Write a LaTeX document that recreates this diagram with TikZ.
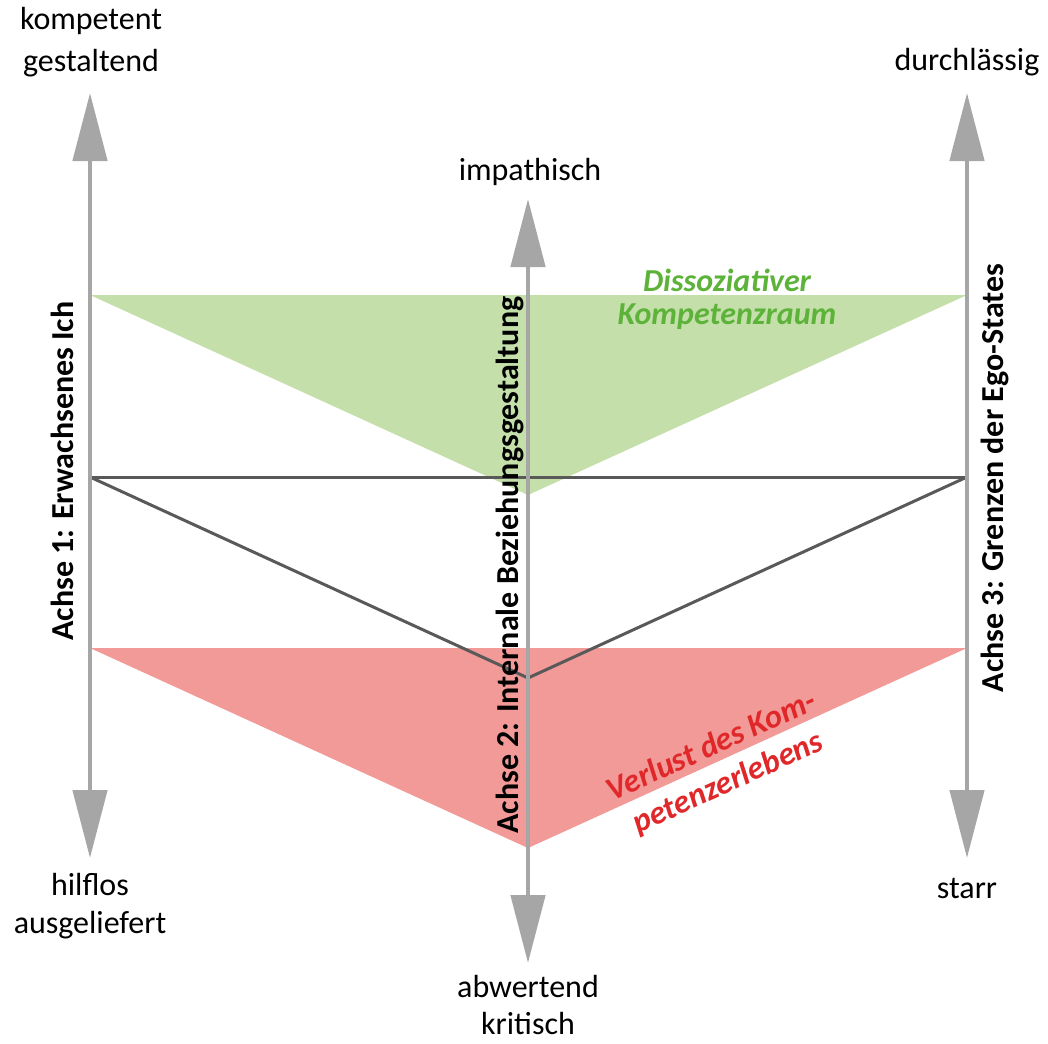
\documentclass[tikz,border=0pt]{standalone}
\usepackage{fontspec}
\setmainfont{Carlito}
\usetikzlibrary{arrows.meta}
\definecolor{axisgray}{HTML}{A6A6A6}
\definecolor{linegray}{HTML}{595959}
\definecolor{greenfill}{HTML}{C4DFAA}
\definecolor{greentext}{HTML}{5DB33A}
\definecolor{redfill}{HTML}{F19A97}
\definecolor{redtext}{HTML}{E0282A}
\tikzset{
    every node/.style={inner sep=0pt, align=center,
    	font=\fontsize{24}{28}\selectfont}
}
\tikzset{
    axis/.style={axisgray, line width=3.5pt,
    	{Triangle[length=51pt,width=25.5pt]}-{Triangle[length=51pt,width=25.5pt]}}
}
\tikzset{
    vline/.style={linegray, line width=2.25pt, line join=miter}
}
\tikzset{
    axislabel/.style={rotate=90, font=\fontsize{24}{28}\selectfont\bfseries}
}
\tikzset{
    zonelabel/.style={font=\fontsize{24}{25}\selectfont\bfseries\itshape}
}

\begin{document}
\begin{tikzpicture}[x=0.75pt, y=-0.75pt]
	\useasboundingbox (0,0) rectangle (1048,1043);
	% axis end points
	\coordinate (a1top) at ( 90,  93);
	\coordinate (a1bot) at ( 90, 858);
	\coordinate (a2top) at (528, 199);
	\coordinate (a2bot) at (528, 963);
	\coordinate (a3top) at (967,  93);
	\coordinate (a3bot) at (967, 858);
	% corners of the triangles
	\coordinate (gl) at ( 90, 295); \coordinate (gr) at (967, 295);
	\coordinate (gv) at (528, 495);
	\coordinate (rl) at ( 90, 648); \coordinate (rr) at (967, 648);
	\coordinate (rv) at (528, 848);
	\coordinate (ml) at ( 90, 477); \coordinate (mr) at (967, 477);
	\coordinate (mv) at (528, 678);

	\fill[greenfill] (gl) -- (gr) -- (gv) -- cycle;
	\fill[redfill] (rl) -- (rr) -- (rv) -- cycle;

	\draw[vline] (ml) -- (mr);
	\draw[vline] (ml) -- (mv) -- (mr);

	\draw[axis] (a1bot) -- (a1top);
	\draw[axis] (a2bot) -- (a2top);
	\draw[axis] (a3bot) -- (a3top);

	\node (kompetent) [font=\fontsize{24}{32}\selectfont] at ( 91,  42) {kompetent\\gestaltend};
	\node (durch) at (967,  62) {durchlässig};
	\node (impath) at (530, 172) {impathisch};
	\node (hilflos) at ( 90, 906) {hilflos\\ausgeliefert};
	\node (starr) at (967, 888) {starr};
	\node (abwert) at (528, 1005) {abwertend\\kritisch};

	\node (achse1) [axislabel] at ( 62, 471) {Achse 1: Erwachsenes Ich};
	\node (achse2) [axislabel] at (510, 565) {Achse 2: Internale Beziehungsgestaltung};
	\node (achse3) [axislabel] at (995, 478) {Achse 3: Grenzen der Ego-States};

	\node (dissoz) [zonelabel, greentext] at (727, 299) {Dissoziativer\\Kompetenzraum};
	\node (verlust) [zonelabel, redtext, rotate=24.5, font=\fontsize{24.5}{30}\selectfont\bfseries\itshape] at (720, 765) {Verlust des Kom-\\petenzerlebens};
\end{tikzpicture}
\end{document}
